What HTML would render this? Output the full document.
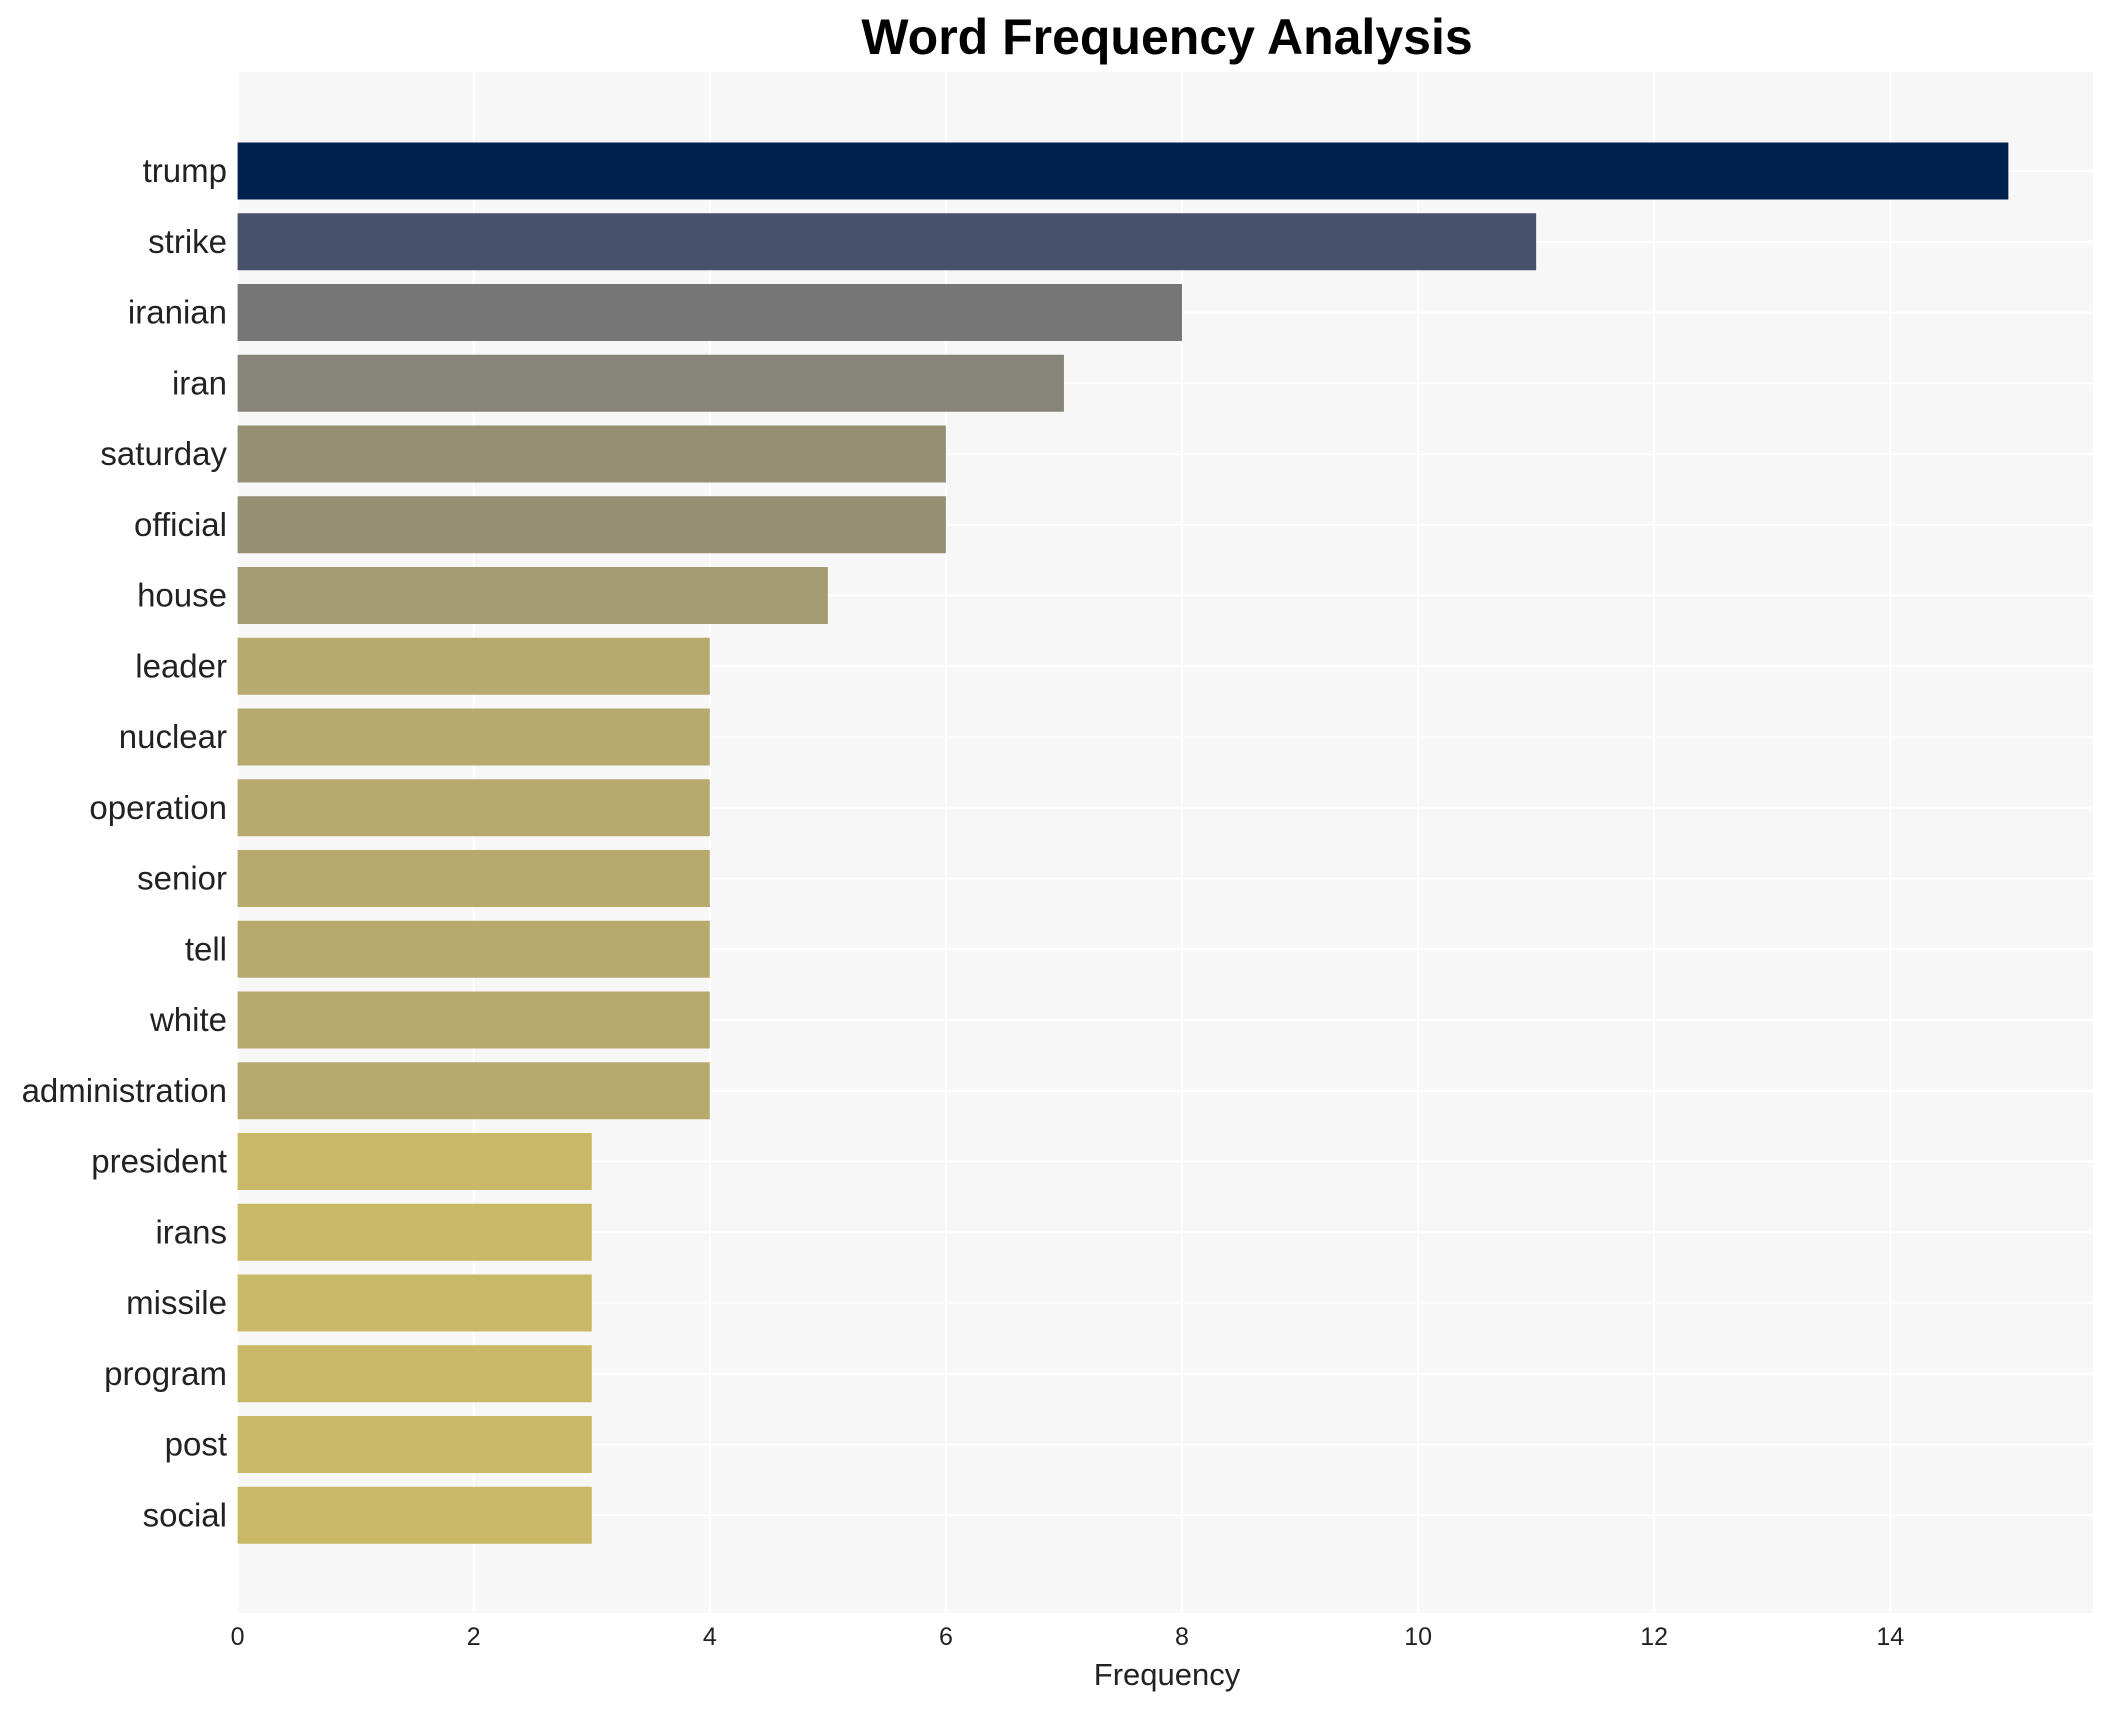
<!DOCTYPE html>
<html><head><meta charset="utf-8"><style>
body{margin:0;background:#fff;}
svg text{font-family:"Liberation Sans",Arial,sans-serif;}
</style></head><body>
<svg width="2117" height="1710" xmlns="http://www.w3.org/2000/svg" id="chart">
<text x="1167" y="54" font-size="50" font-weight="bold" text-anchor="middle">Word Frequency Analysis</text>
<rect x="237" y="72" width="1856" height="1541" fill="#f7f7f7"/>
<g id="grid"></g><g id="bars"></g><g id="ylabels"></g><g id="xticks"></g>
<text x="1167" y="1685" font-size="31" text-anchor="middle" fill="#222">Frequency</text>
</svg>
<script>
const words=["trump","strike","iranian","iran","saturday","official","house","leader","nuclear","operation","senior","tell","white","administration","president","irans","missile","program","post","social"];
const counts=[15,11,8,7,6,6,5,4,4,4,4,4,4,4,3,3,3,3,3,3];
const colors=["#00224e","#46506b","#767676","#878479","#958f74","#958f74","#a59c71","#b8aa6f","#b8aa6f","#b8aa6f","#b8aa6f","#b8aa6f","#b8aa6f","#b8aa6f","#c9b865","#c9b865","#c9b865","#c9b865","#c9b865","#c9b865"];
const xticks=[0,2,4,6,8,10,12,14];
const NS="http://www.w3.org/2000/svg";
const x0=237.6,unit=118.05,yTop=171,step=70.75,bh=57;
const xs=v=>x0+v*unit, ys=i=>yTop+i*step;
const g=document.getElementById('grid'),b=document.getElementById('bars'),yl=document.getElementById('ylabels'),xt=document.getElementById('xticks');
function mk(t,a,p){const e=document.createElementNS(NS,t);for(const k in a)e.setAttribute(k,a[k]);p.appendChild(e);return e;}
xticks.forEach(v=>{
  const l=mk('line',{x1:xs(v),x2:xs(v),y1:72,y2:1613,stroke:'#fff','stroke-width':2},g);
  
  
  const t=mk('text',{x:xs(v),y:1645,'font-size':25,'text-anchor':'middle',fill:'#222'},xt);
  t.textContent=v;
  
  
});
words.forEach((w,i)=>{
  const l=mk('line',{x1:237,x2:2093,y1:ys(i),y2:ys(i),stroke:'#fff','stroke-width':2},g);
  
  
  const r=mk('rect',{x:xs(0),y:ys(i)-bh/2,width:xs(counts[i])-xs(0),height:bh,fill:colors[i]},b);
  
  
  const t=mk('text',{x:227,y:ys(i)+11,'font-size':33,'text-anchor':'end',fill:'#222'},yl);
  t.textContent=w;
  
  
});
</script>
</body></html>
